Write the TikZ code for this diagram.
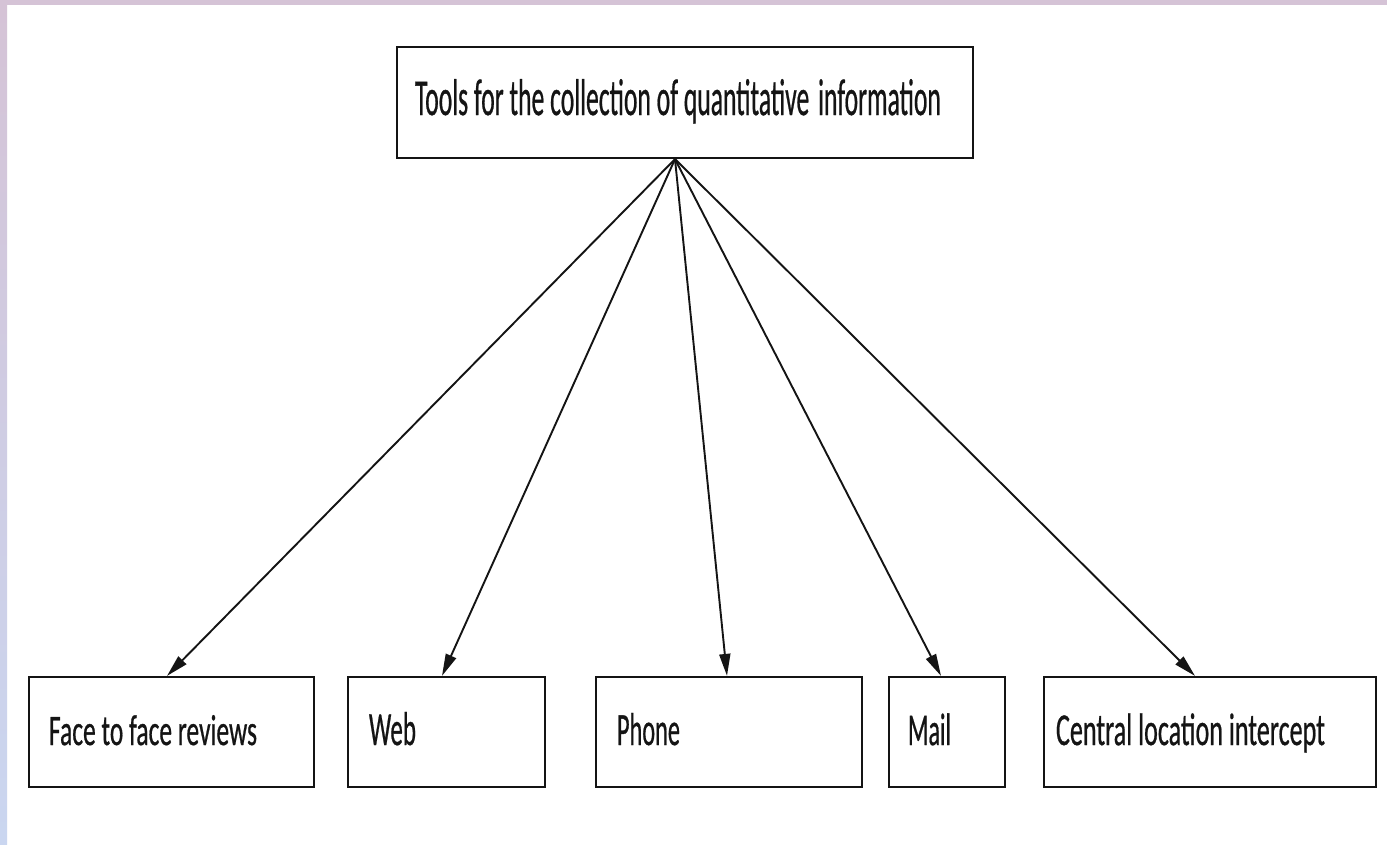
\documentclass[tikz,border=0pt]{standalone}
\usepackage{fontspec}
\setmainfont{Carlito}
\newfontfamily\txtfont{Carlito}[FakeBold=0.8]
\usepackage{graphicx}
\usetikzlibrary{arrows.meta}
\definecolor{bandtop}{RGB}{213,195,214}
\definecolor{bandbot}{RGB}{202,214,240}
\definecolor{ink}{RGB}{20,20,20}
\newcommand{\stretchtext}[3]{\scalebox{1}[#2]{\resizebox{#1pt}{!}{\fontsize{25}{30}\txtfont #3}}}
\begin{document}
\begin{tikzpicture}[x=1pt,y=-1pt,
  box/.style={draw=ink, line width=2.2pt, inner sep=0pt, fill=white, rectangle},
  lbl/.style={anchor=base west, inner sep=0pt, outer sep=0pt, text=ink},
  arr/.style={draw=ink, line width=1.9pt, -{Triangle[length=22pt,width=11pt]}}]
\useasboundingbox (0,0) rectangle (1387,844);
\fill[white] (0,0) rectangle (1387,844);
\shade[top color=bandtop, bottom color=bandbot] (0,0) rectangle (7,844);
\fill[bandtop] (0,0) rectangle (1387,5);

\node[box, minimum width=576pt, minimum height=111pt] (top) at (685,102.5) {};
\node[box, minimum width=285pt, minimum height=110pt] (face) at (171.5,732) {};
\node[box, minimum width=197pt, minimum height=110pt] (web) at (446.5,732) {};
\node[box, minimum width=266pt, minimum height=110pt] (phone) at (729,732) {};
\node[box, minimum width=116pt, minimum height=110pt] (mail) at (947,732) {};
\node[box, minimum width=332pt, minimum height=110pt] (central) at (1210,732) {};

\node[lbl] (toptxt) at (415,115) {\stretchtext{526}{2.02}{Tools for the collection of quantitative\hspace{0.12em} information}};
\node[lbl] (facetxt) at (49,745) {\stretchtext{208}{1.7}{Face to face reviews}};
\node[lbl] (webtxt) at (369,745) {\stretchtext{47}{1.9}{Web}};
\node[lbl] (phonetxt) at (617,745) {\stretchtext{63}{1.9}{Phone}};
\node[lbl] (mailtxt) at (908,745) {\stretchtext{43}{1.9}{Mail}};
\node[lbl] (centraltxt) at (1056,745) {\stretchtext{269}{1.75}{Central location intercept}};

\coordinate (src) at ([xshift=-10pt]top.south);
\draw[arr] (src) -- ([xshift=-4.5pt]face.north);
\draw[arr] (src) -- ([xshift=-4.5pt]web.north);
\draw[arr] (src) -- ([xshift=-2pt]phone.north);
\draw[arr] (src) -- ([xshift=-6pt]mail.north);
\draw[arr] (src) -- ([xshift=-15pt]central.north);
\end{tikzpicture}
\end{document}
